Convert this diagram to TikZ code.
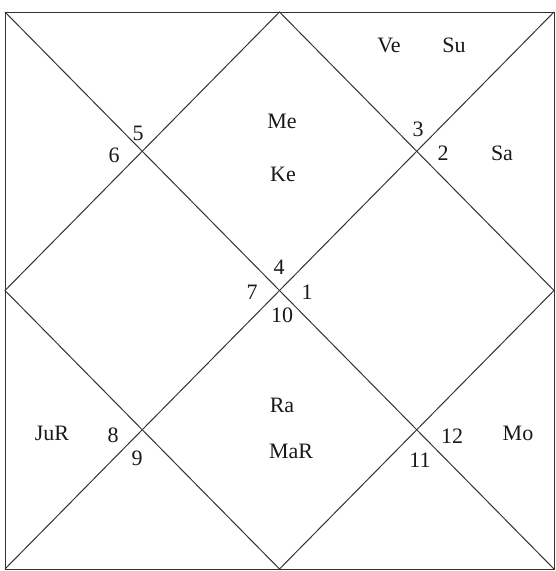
\documentclass[tikz,border=0pt]{standalone}
\usepackage{fontspec}
\setmainfont{Liberation Serif}
\begin{document}
\begin{tikzpicture}[x=1pt,y=-1pt,
  chartline/.style={draw=black!80, line width=1.0pt},
  lab/.style={font=\fontsize{22}{26}\selectfont, inner sep=0pt, anchor=center, text=black!90}]
\useasboundingbox (0,0) rectangle (555,571);
\fill[white] (0,0) rectangle (555,571);
\coordinate (TL) at (5,12);
\coordinate (TR) at (554,12);
\coordinate (BR) at (554,569);
\coordinate (BL) at (5,569);
\coordinate (TM) at (279.5,12);
\coordinate (RM) at (554,290.5);
\coordinate (BM) at (279.5,569);
\coordinate (LM) at (5,290.5);
\draw[chartline] (TL) -- (TR) -- (BR) -- (BL) -- cycle;
\draw[chartline] (TL) -- (BR);
\draw[chartline] (TR) -- (BL);
\draw[chartline] (TM) -- (RM) -- (BM) -- (LM) -- cycle;
% house numbers
\node[lab] (n4) at (279,267) {4};
\node[lab] (n7) at (252,292) {7};
\node[lab] (n1) at (307,292) {1};
\node[lab] (n10) at (282,315) {10};
\node[lab] (n5) at (138,133) {5};
\node[lab] (n6) at (114,155) {6};
\node[lab] (n3) at (418,129) {3};
\node[lab] (n2) at (443,153) {2};
\node[lab] (n8) at (113,435) {8};
\node[lab] (n9) at (137,458) {9};
\node[lab] (n12) at (452,436) {12};
\node[lab] (n11) at (420,460) {11};
% planets
\node[lab] (me) at (282,121) {Me};
\node[lab] (ke) at (283,174) {Ke};
\node[lab] (ve) at (389,45) {Ve};
\node[lab] (su) at (454,45) {Su};
\node[lab] (sa) at (502,153) {Sa};
\node[lab] (jur) at (52,433) {JuR};
\node[lab] (ra) at (282,405) {Ra};
\node[lab] (mar) at (291,451) {MaR};
\node[lab] (mo) at (518,433) {Mo};
\end{tikzpicture}
\end{document}
